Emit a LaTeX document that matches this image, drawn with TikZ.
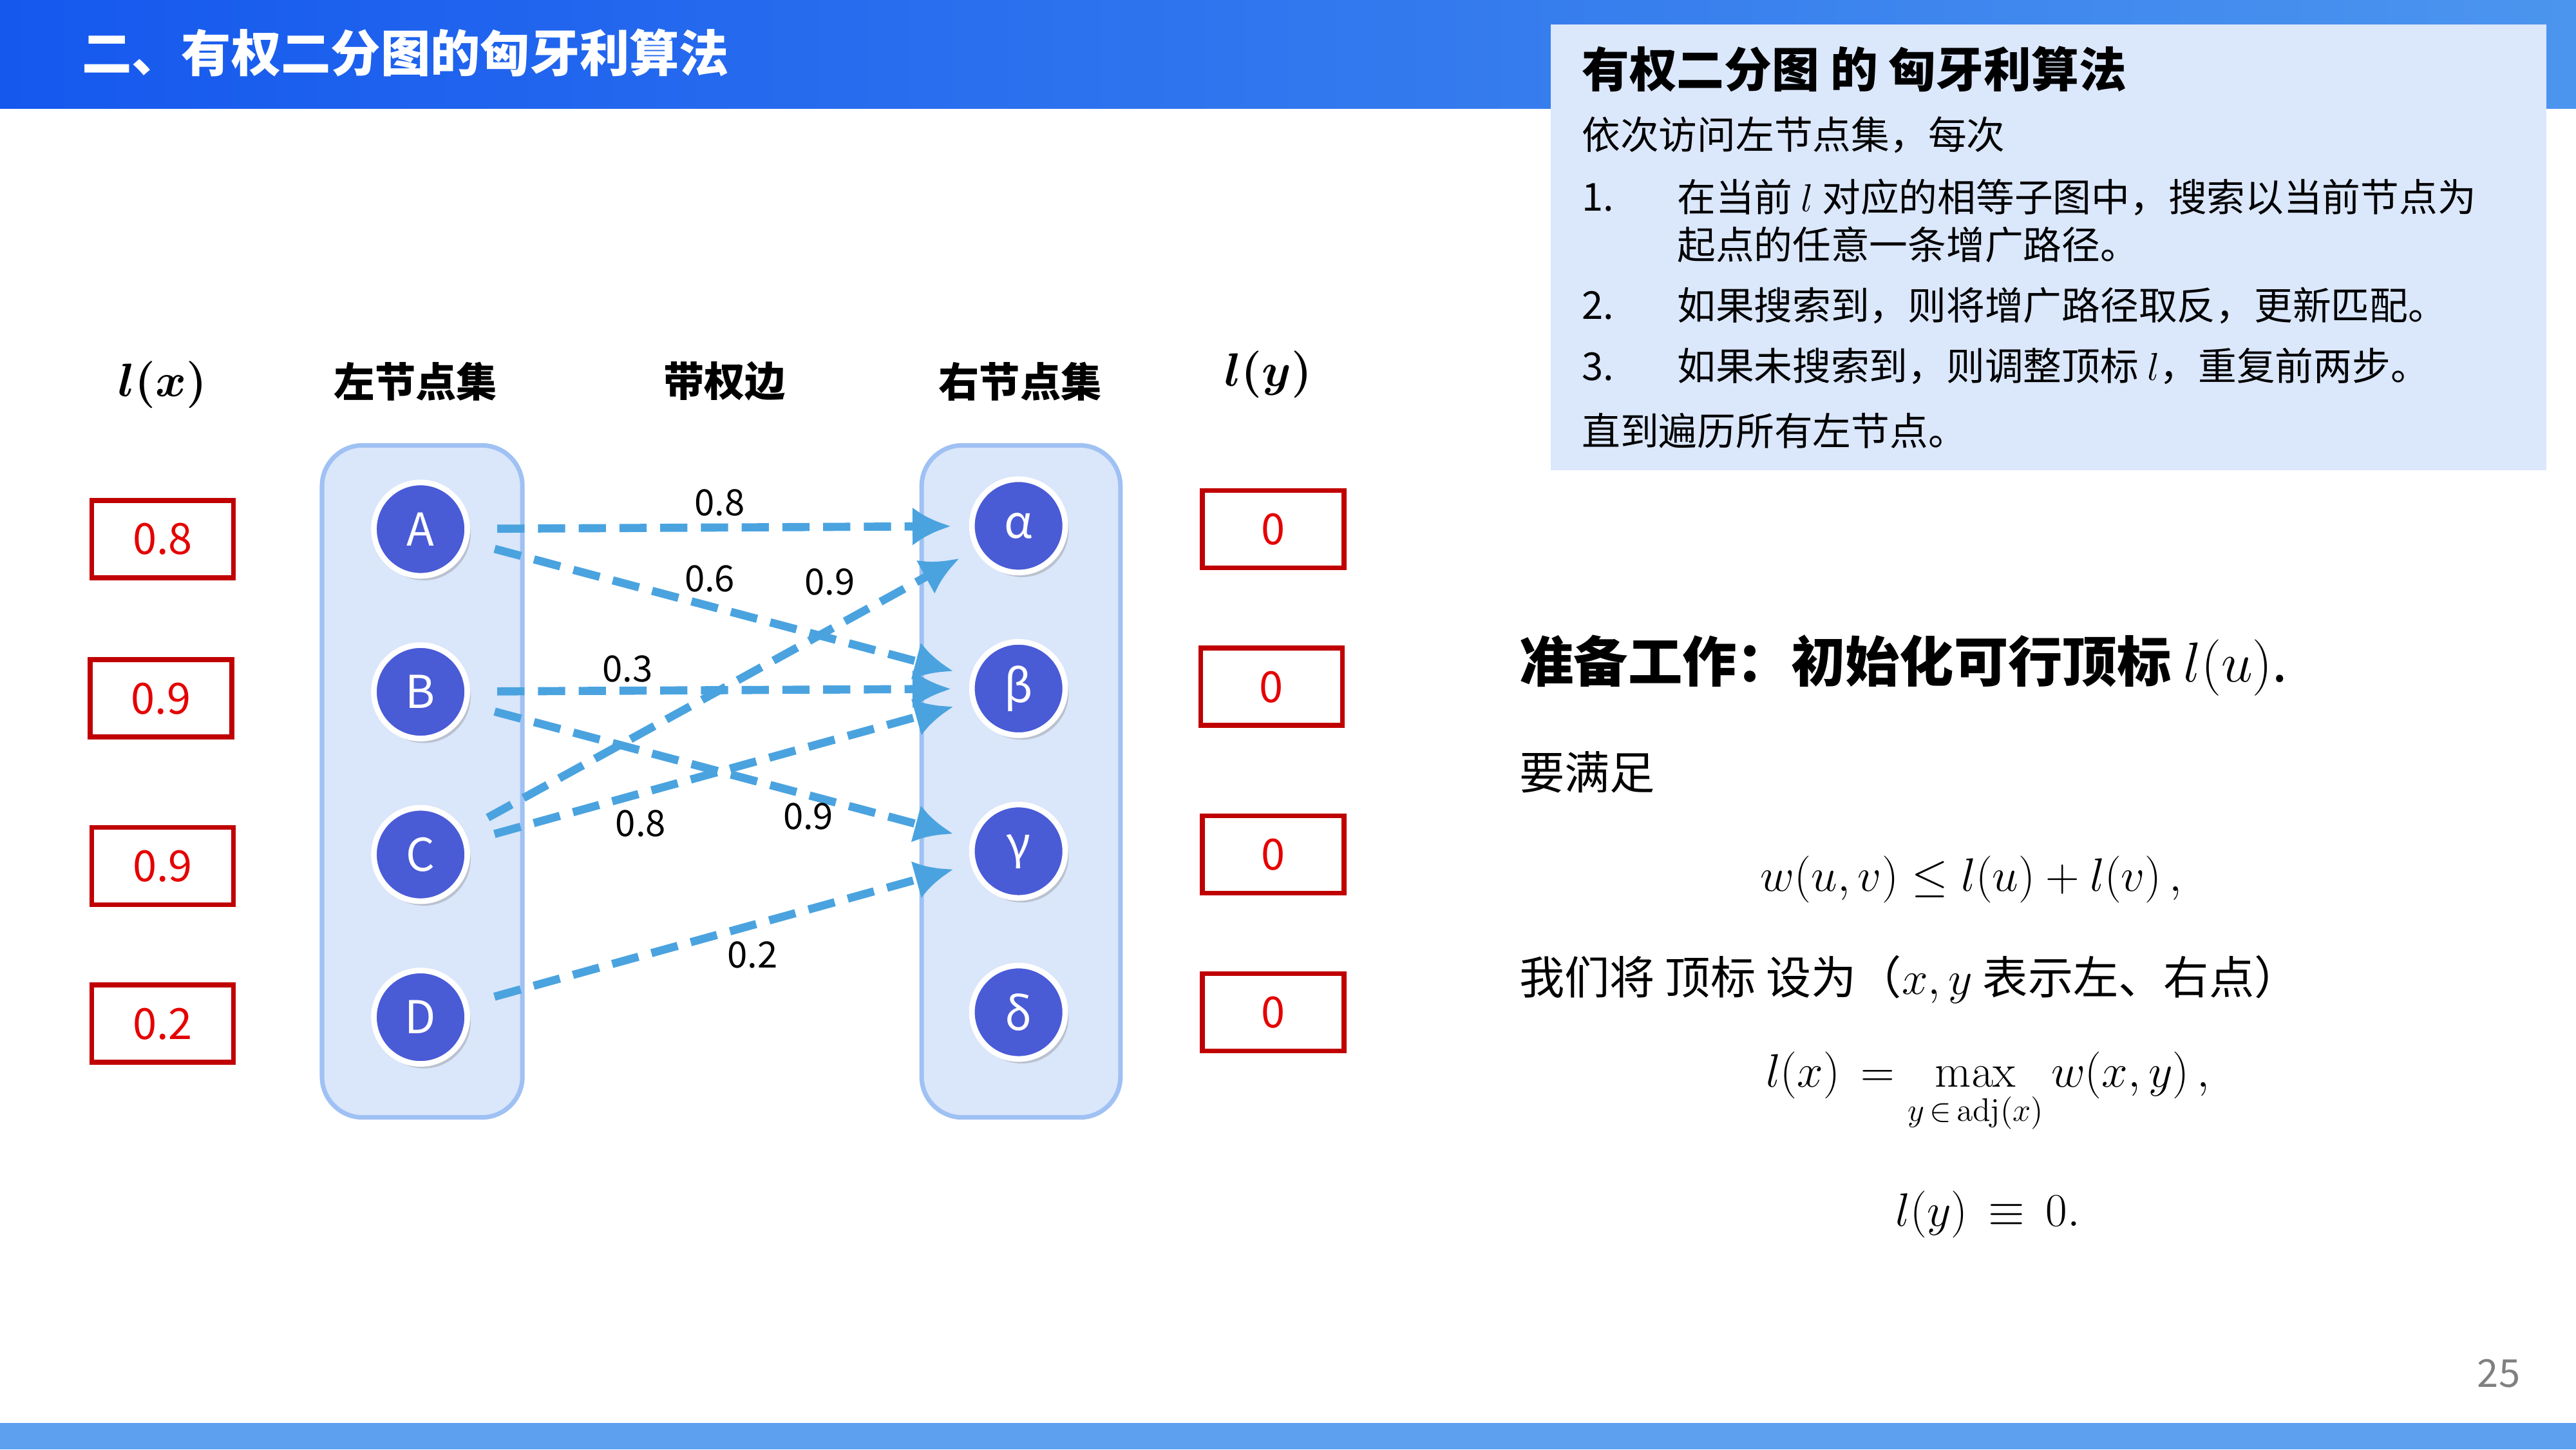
\documentclass[tikz,border=0pt]{standalone}
\usepackage{amsmath}
\usepackage{amssymb}
\usepackage[no-math]{fontspec}
\setmainfont{Noto Sans CJK SC}
\usetikzlibrary{positioning,arrows.meta,shadows}
\definecolor{hdrA}{HTML}{1558EE}
\definecolor{hdrB}{HTML}{4C95EE}
\definecolor{boxbg}{HTML}{DBE7FB}
\definecolor{colbg}{HTML}{DAE6FA}
\definecolor{colbd}{HTML}{9FC1F3}
\definecolor{vtx}{HTML}{4A5BD6}
\definecolor{edgec}{HTML}{4AA3DF}
\definecolor{redbox}{HTML}{C00000}
\tikzset{
  vertex/.style={circle,fill=vtx,draw=white,line width=2.5pt,minimum size=1.45cm,
    text=white,font=\fontsize{20}{22}\selectfont,inner sep=0pt,
    drop shadow={shadow xshift=1.5pt,shadow yshift=-2pt,opacity=.35}},
  valbox/.style={draw=redbox,line width=2.2pt,minimum width=2.2cm,minimum height=1.2cm,
    text=red!90!black,font=\fontsize{19}{21}\selectfont},
  colhead/.style={font=\fontsize{18}{20}\selectfont\bfseries},
  wedge/.style={draw=edgec,line width=3.6pt,dash pattern=on 12pt off 6pt,
    -{Latex[length=17pt,width=17pt]},shorten <=12pt,shorten >=8pt},
  wlabel/.style={font=\fontsize{16}{18}\selectfont,inner sep=1pt},
  boxtext/.style={anchor=west,font=\fontsize{17}{20}\selectfont}
}
\begin{document}
\begin{tikzpicture}[x=0.02551cm,y=-0.02551cm]
  \useasboundingbox (0,0) rectangle (1568,882);
  % header and footer bars
  \shade[left color=hdrA,right color=hdrB] (0,0) rectangle (1568,66);
  \node[anchor=west,text=white,font=\fontsize{22}{24}\selectfont\bfseries] (title) at (45,32) {二、有权二分图的匈牙利算法};
  \fill[hdrB!90!white] (0,866) rectangle (1568,882);
  \node[text=gray,font=\fontsize{17}{19}\selectfont] (page) at (1521,836) {25};
  % info box
  \fill[boxbg] (944,15) rectangle (1550,286);
  \node[anchor=west,font=\fontsize{21}{24}\selectfont\bfseries] (ihead) at (958,42) {有权二分图 的 匈牙利算法};
  \node[boxtext] (i0) at (958,82) {依次访问左节点集，每次};
  \node[boxtext] (n1) at (958,120) {1.};
  \node[boxtext] (i1) at (1016,120) {在当前 $l$ 对应的相等子图中，搜索以当前节点为};
  \node[boxtext] (i1b) at (1016,149) {起点的任意一条增广路径。};
  \node[boxtext] (n2) at (958,186) {2.};
  \node[boxtext] (i2) at (1016,186) {如果搜索到，则将增广路径取反，更新匹配。};
  \node[boxtext] (n3) at (958,223) {3.};
  \node[boxtext] (i3) at (1016,223) {如果未搜索到，则调整顶标 $l$，重复前两步。};
  \node[boxtext] (i4) at (958,262) {直到遍历所有左节点。};
  % column headers
  \node[colhead,font=\fontsize{20}{22}\selectfont] (hlx) at (99,234) {$\boldsymbol{l(x)}$};
  \node[colhead] (hleft) at (253,232) {左节点集};
  \node[colhead] (hedge) at (441,232) {带权边};
  \node[colhead] (hright) at (621,232) {右节点集};
  \node[colhead,font=\fontsize{20}{22}\selectfont] (hly) at (772,228) {$\boldsymbol{l(y)}$};
  % columns
  \draw[colbd,fill=colbg,line width=2pt,rounded corners=18pt] (196,271) rectangle (318,680);
  \draw[colbd,fill=colbg,line width=2pt,rounded corners=18pt] (561,271) rectangle (682,680);
  \node[vertex] (A) at (256,322) {A};
  \node[vertex] (B) at (256,421) {B};
  \node[vertex] (C) at (256,520) {C};
  \node[vertex] (D) at (256,619) {D};
  \node[vertex] (al) at (620,320) {α};
  \node[vertex] (be) at (620,419) {β};
  \node[vertex] (ga) at (620,518) {γ};
  \node[vertex] (de) at (620,616) {δ};
  % labels l(x), l(y)
  \node[valbox] (lA) at (99,328) {0.8};
  \node[valbox] (lB) at (98,425) {0.9};
  \node[valbox] (lC) at (99,527) {0.9};
  \node[valbox] (lD) at (99,623) {0.2};
  \node[valbox] (lal) at (775,322) {0};
  \node[valbox] (lbe) at (774,418) {0};
  \node[valbox] (lga) at (775,520) {0};
  \node[valbox] (lde) at (775,616) {0};
  % weighted edges
  \draw[wedge] (A) -- (al);
  \draw[wedge] (A) -- (be);
  \draw[wedge] (B) -- (be);
  \draw[wedge] (B) -- (ga);
  \draw[wedge] (C) -- (al);
  \draw[wedge] (C) -- (be);
  \draw[wedge] (D) -- (ga);
  \node[wlabel] (wAal) at (438,306) {0.8};
  \node[wlabel] (wAbe) at (432,352) {0.6};
  \node[wlabel] (wBbe) at (382,407) {0.3};
  \node[wlabel] (wBga) at (492,497) {0.9};
  \node[wlabel] (wCal) at (505,354) {0.9};
  \node[wlabel] (wCbe) at (390,501) {0.8};
  \node[wlabel] (wDga) at (458,581) {0.2};
  % preparation text
  \node[anchor=west,font=\fontsize{24}{26}\selectfont\bfseries] (prep) at (920,405) {准备工作：初始化可行顶标 \mdseries$l(u)$.};
  \node[anchor=west,font=\fontsize{20}{22}\selectfont] (need) at (920,470) {要满足};
  \node[font=\fontsize{20}{22}\selectfont] (f1) at (1200,535) {$w(u,v)\le l(u)+l(v)\,,$};
  \node[anchor=west,font=\fontsize{20}{22}\selectfont] (set) at (920,596) {我们将 顶标 设为（$x,y$ 表示左、右点）};
  \node[font=\fontsize{20}{22}\selectfont] (f2) at (1210,665) {$l(x)\,=\max\limits_{\raisebox{-3pt}{$\scriptstyle y\,\in\,\mathrm{adj}(x)$}} w(x,y)\,,$};
  \node[font=\fontsize{20}{22}\selectfont] (f3) at (1210,739) {$l(y)\,\equiv\,0.$};
\end{tikzpicture}
\end{document}
